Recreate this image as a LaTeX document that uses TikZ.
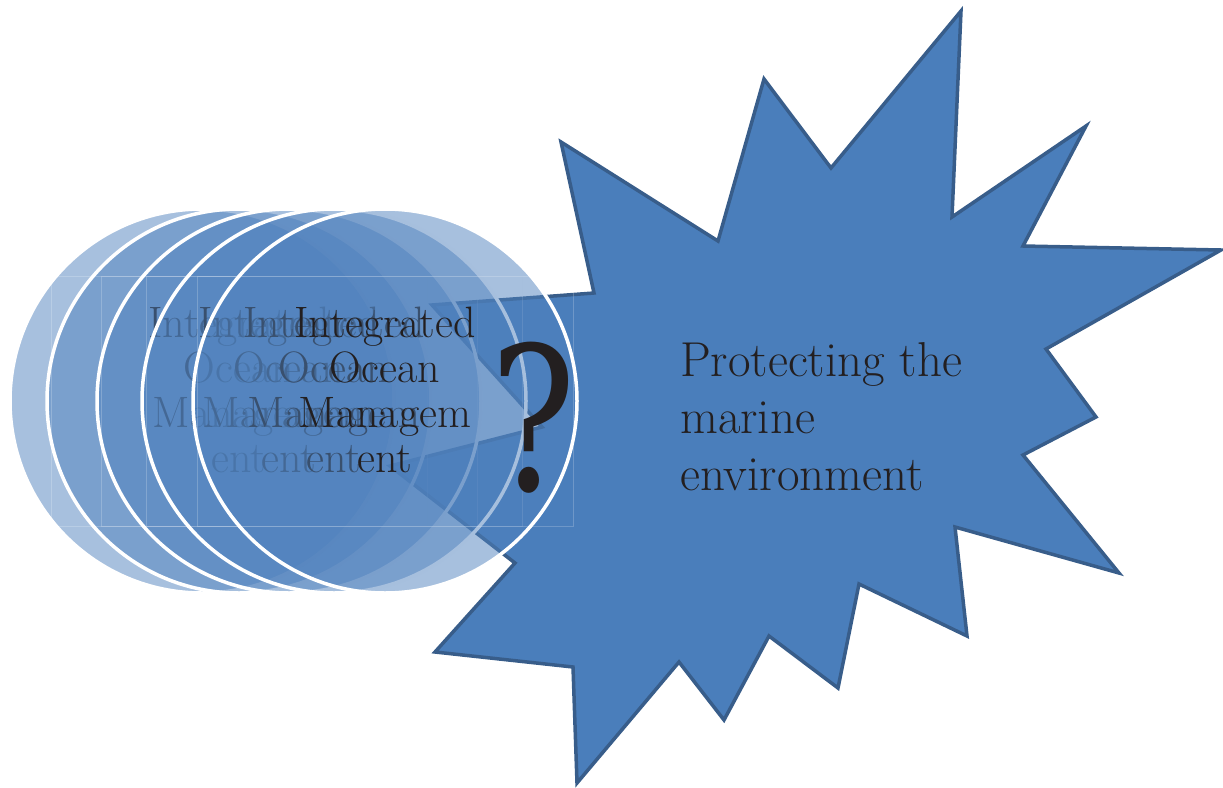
\documentclass[tikz,border=0pt]{standalone}
\usepackage{fontspec}
\usepackage{tikz}
\newfontfamily\qfont{DejaVu Serif}

\definecolor{burstfill}{RGB}{74,126,187}
\definecolor{burstline}{RGB}{56,93,138}
\definecolor{ringfill}{RGB}{79,129,189}
\definecolor{ink}{RGB}{35,31,32}

\tikzset{
  burst/.style={fill=burstfill, draw=burstline, line width=3.5pt},
  ring/.style={circle, minimum size=384pt, inner sep=0pt, fill=ringfill, fill opacity=0.5, draw=white, line width=3.5pt},
  frame/.style={rectangle, minimum width=376pt, minimum height=250pt, inner sep=0pt, draw=white, draw opacity=0.2, line width=0.6pt},
  lbl/.style={text=ink, align=center, inner sep=0pt, anchor=north, font=\fontsize{44}{45}\selectfont},
}

\begin{document}
\begin{tikzpicture}[x=1pt,y=-1pt]
\useasboundingbox (0,0) rectangle (1223,787);

% the burst behind everything
\draw[burst] (961,11) -- (952,217) -- (1086,126) -- (1023,246) -- (1221,250)
  -- (1046,349) -- (1096,417) -- (1023,455) -- (1119,573) -- (955,527)
  -- (967,636) -- (859,584) -- (838,688) -- (769,636) -- (724,720)
  -- (679,662) -- (577,783) -- (573,667) -- (435,652) -- (515,563)
  -- (390,466) -- (542,427) -- (432,305) -- (594,293) -- (561,142)
  -- (718,241) -- (764,79) -- (831,168) -- cycle;
\node[text=ink, align=left, inner sep=0pt, anchor=north west,
  font=\fontsize{49}{57}\selectfont] (goal) at (680,342)
  {Protecting the\\marine\\environment};

% stack of rings, back to front
\node[ring] (c1) at (202,401) {};
\foreach \n/\x in {2/239,3/289,4/334,5/385} {
  \node[ring] (c\n) at (\x,401) {};
  \node[frame] (f\n) at (c\n) {};
  \node[lbl] (t\n) at ([yshift=94.5pt]c\n.center) {Integrated\\Ocean\\Managem\\ent};
}

\node[text=ink, inner sep=0pt, anchor=base, font=\qfont\fontsize{200}{200}\selectfont]
  (q) at (533,490) {\scalebox{0.8}[1]{?}};
\end{tikzpicture}
\end{document}
